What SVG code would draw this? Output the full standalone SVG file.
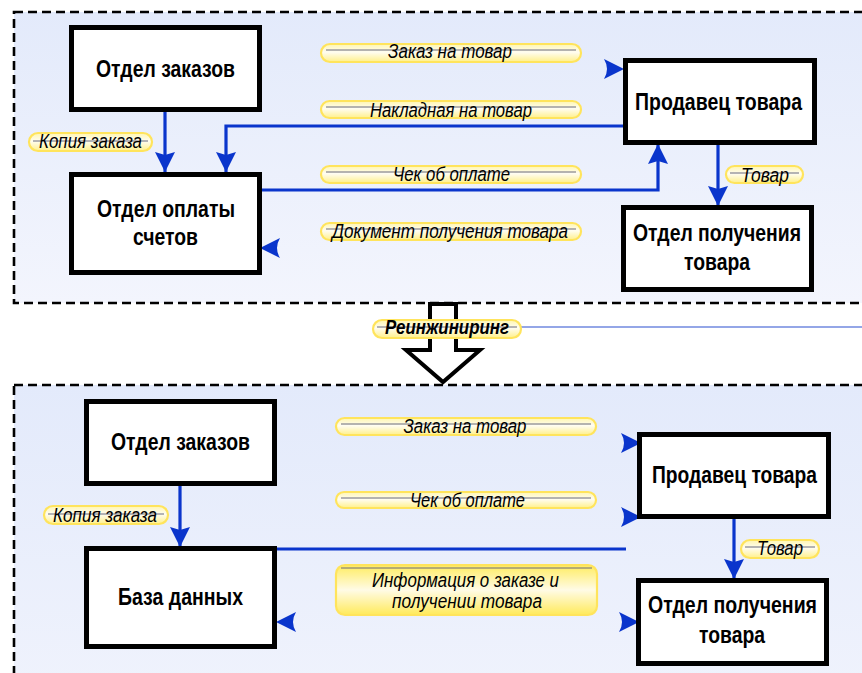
<svg xmlns="http://www.w3.org/2000/svg" width="862" height="673" viewBox="0 0 862 673">
<defs>
<linearGradient id="panel" x1="0" y1="0" x2="0" y2="1">
<stop offset="0" stop-color="#e3eafb"/>
<stop offset="1" stop-color="#f3f5fd"/>
</linearGradient>
<linearGradient id="pill" x1="0" y1="0" x2="0" y2="1">
<stop offset="0" stop-color="#fff6b0"/>
<stop offset="0.45" stop-color="#fffdf2"/>
<stop offset="1" stop-color="#fff08a"/>
</linearGradient>
<linearGradient id="pill2" x1="0" y1="0" x2="0" y2="1">
<stop offset="0" stop-color="#ffec60"/>
<stop offset="0.5" stop-color="#fffbe6"/>
<stop offset="1" stop-color="#ffea5a"/>
</linearGradient>
<marker id="ah" markerUnits="userSpaceOnUse" markerWidth="20" markerHeight="20" viewBox="0 0 20 20" refX="20" refY="10" orient="auto">
<path d="M0,0 L20,10 L0,20 L3,10 z" fill="#0a35cc"/>
</marker>
<path id="stealth" d="M-20,-10 L0,0 L-20,10 Q-14,0 -20,-10 z" fill="#0a35cc"/>
</defs>
<style>
.panel{fill:url(#panel);stroke:#000;stroke-width:2.6;stroke-dasharray:9 5}
.box{fill:#fff;stroke:#000;stroke-width:5}
.nt{font-family:"Liberation Sans",Arial,sans-serif;font-size:23.5px;font-weight:bold;fill:#000;text-anchor:middle}
.lt{font-family:"Liberation Sans",Arial,sans-serif;font-size:20px;font-style:italic;fill:#000;text-anchor:middle}
.pl{fill:url(#pill);stroke:#ffe45c;stroke-width:2.2}
.pl2{fill:url(#pill2);stroke:#ffe45c;stroke-width:2.2}
.pline{stroke:#6b6b7a;stroke-width:1;fill:none}
.cn{fill:none;stroke:#0a35cc;stroke-width:3.2}
</style>

<rect class="panel" x="14" y="12" width="900" height="291"/>
<rect class="panel" x="14" y="385" width="900" height="400"/>

<g id="reengineering-arrow">
<path d="M430,304 L456,304 L456,350 L480,350 L443,382 L406,350 L430,350 Z" fill="#fff" stroke="#000" stroke-width="4" stroke-linejoin="miter"/>
</g>

<g id="connectors">
<path class="cn" d="M165,112 L165,172" marker-end="url(#ah)"/>
<path class="cn" d="M623,126 L226,126 L226,172" marker-end="url(#ah)"/>
<path class="cn" d="M262,190 L658,190 L658,144" marker-end="url(#ah)"/>
<path class="cn" d="M718,145 L718,206" marker-end="url(#ah)"/>
<use href="#stealth" transform="translate(624,69)"/>
<use href="#stealth" transform="translate(260,248) rotate(180)"/>
<path class="cn" d="M180,486 L180,547" marker-end="url(#ah)"/>
<path class="cn" d="M276,549 L626,549"/>
<path class="cn" d="M734,519 L734,579" marker-end="url(#ah)"/>
<use href="#stealth" transform="translate(641,443)"/>
<use href="#stealth" transform="translate(641,517)"/>
<use href="#stealth" transform="translate(639,622)"/>
<use href="#stealth" transform="translate(276,622) rotate(180)"/>
<path d="M521,327 L862,327" stroke="#2a4fd0" stroke-width="1.2" fill="none"/>
</g>

<g id="n-otdel-zakazov-1">
<rect class="box" x="71.5" y="27.5" width="188" height="82"/>
<text class="nt" x="165.5" y="77" textLength="139" lengthAdjust="spacingAndGlyphs">Отдел заказов</text>
</g>
<g id="n-otdel-oplaty">
<rect class="box" x="71.5" y="174.5" width="188" height="98"/>
<text class="nt" x="166" y="217" textLength="138" lengthAdjust="spacingAndGlyphs">Отдел оплаты</text>
<text class="nt" x="165.5" y="245" textLength="65" lengthAdjust="spacingAndGlyphs">счетов</text>
</g>
<g id="n-prodavets-1">
<rect class="box" x="625.5" y="60.5" width="189" height="82"/>
<text class="nt" x="718.5" y="110" textLength="167" lengthAdjust="spacingAndGlyphs">Продавец товара</text>
</g>
<g id="n-otdel-polucheniya-1">
<rect class="box" x="623.5" y="207.5" width="188" height="82"/>
<text class="nt" x="717" y="241" textLength="168" lengthAdjust="spacingAndGlyphs">Отдел получения</text>
<text class="nt" x="717" y="270" textLength="66" lengthAdjust="spacingAndGlyphs">товара</text>
</g>

<g id="n-otdel-zakazov-2">
<rect class="box" x="86.5" y="401.5" width="188" height="82"/>
<text class="nt" x="180.5" y="450" textLength="139" lengthAdjust="spacingAndGlyphs">Отдел заказов</text>
</g>
<g id="n-baza-dannyh">
<rect class="box" x="86.5" y="548.5" width="188" height="98"/>
<text class="nt" x="180.5" y="605" textLength="125" lengthAdjust="spacingAndGlyphs">База данных</text>
</g>
<g id="n-prodavets-2">
<rect class="box" x="639.5" y="434.5" width="189" height="82"/>
<text class="nt" x="734.5" y="483" textLength="165" lengthAdjust="spacingAndGlyphs">Продавец товара</text>
</g>
<g id="n-otdel-polucheniya-2">
<rect class="box" x="638.5" y="580.5" width="188" height="83"/>
<text class="nt" x="732.5" y="613" textLength="169" lengthAdjust="spacingAndGlyphs">Отдел получения</text>
<text class="nt" x="732" y="643" textLength="66" lengthAdjust="spacingAndGlyphs">товара</text>
</g>

<g id="l-zakaz-1">
<rect class="pl" x="321" y="44" width="260" height="18" rx="9"/>
<path class="pline" d="M326,50 L576,50"/>
<text class="lt" x="450" y="58" textLength="124" lengthAdjust="spacingAndGlyphs">Заказ на товар</text>
</g>
<g id="l-nakladnaya">
<rect class="pl" x="321" y="101" width="260" height="17" rx="8.5"/>
<path class="pline" d="M326,107 L576,107"/>
<text class="lt" x="451" y="117" textLength="162" lengthAdjust="spacingAndGlyphs">Накладная на товар</text>
</g>
<g id="l-chek-1">
<rect class="pl" x="321" y="166" width="260" height="17" rx="8.5"/>
<path class="pline" d="M326,172 L576,172"/>
<text class="lt" x="451.5" y="181" textLength="117" lengthAdjust="spacingAndGlyphs">Чек об оплате</text>
</g>
<g id="l-dokument">
<rect class="pl" x="321" y="223" width="260" height="17" rx="8.5"/>
<path class="pline" d="M326,229 L576,229"/>
<text class="lt" x="450" y="238" textLength="236" lengthAdjust="spacingAndGlyphs">Документ получения товара</text>
</g>
<g id="l-kopiya-1">
<rect class="pl" x="29" y="133" width="123" height="18" rx="9"/>
<path class="pline" d="M33,141 L148,141"/>
<text class="lt" x="90.5" y="148" textLength="103" lengthAdjust="spacingAndGlyphs">Копия заказа</text>
</g>
<g id="l-tovar-1">
<rect class="pl" x="726" y="166" width="77" height="17" rx="8.5"/>
<path class="pline" d="M730,173 L799,173"/>
<text class="lt" x="765" y="182" textLength="48" lengthAdjust="spacingAndGlyphs">Товар</text>
</g>
<g id="l-reengineering">
<rect class="pl" x="373" y="320" width="148" height="18" rx="9"/>
<path class="pline" d="M377,327 L517,327"/>
<text class="lt" x="447" y="334" font-weight="bold" textLength="124" lengthAdjust="spacingAndGlyphs">Реинжиниринг</text>
</g>

<g id="l-zakaz-2">
<rect class="pl" x="336" y="418" width="260" height="17" rx="8.5"/>
<path class="pline" d="M341,424 L591,424"/>
<text class="lt" x="465" y="433" textLength="123" lengthAdjust="spacingAndGlyphs">Заказ на товар</text>
</g>
<g id="l-chek-2">
<rect class="pl" x="336" y="492" width="260" height="16" rx="8"/>
<path class="pline" d="M341,498 L591,498"/>
<text class="lt" x="467.5" y="507" textLength="115" lengthAdjust="spacingAndGlyphs">Чек об оплате</text>
</g>
<g id="l-informatsiya">
<rect class="pl2" x="336" y="565" width="261" height="50" rx="9"/>
<path class="pline" d="M341,568 L592,568"/>
<text class="lt" x="465.5" y="587" textLength="187" lengthAdjust="spacingAndGlyphs">Информация о заказе и</text>
<text class="lt" x="467" y="608" textLength="150" lengthAdjust="spacingAndGlyphs">получении товара</text>
</g>
<g id="l-kopiya-2">
<rect class="pl" x="44" y="506" width="124" height="18" rx="9"/>
<path class="pline" d="M48,514 L164,514"/>
<text class="lt" x="105" y="522" textLength="104" lengthAdjust="spacingAndGlyphs">Копия заказа</text>
</g>
<g id="l-tovar-2">
<rect class="pl" x="741" y="540" width="78" height="18" rx="9"/>
<path class="pline" d="M745,547 L815,547"/>
<text class="lt" x="780" y="555" textLength="46" lengthAdjust="spacingAndGlyphs">Товар</text>
</g>
</svg>
